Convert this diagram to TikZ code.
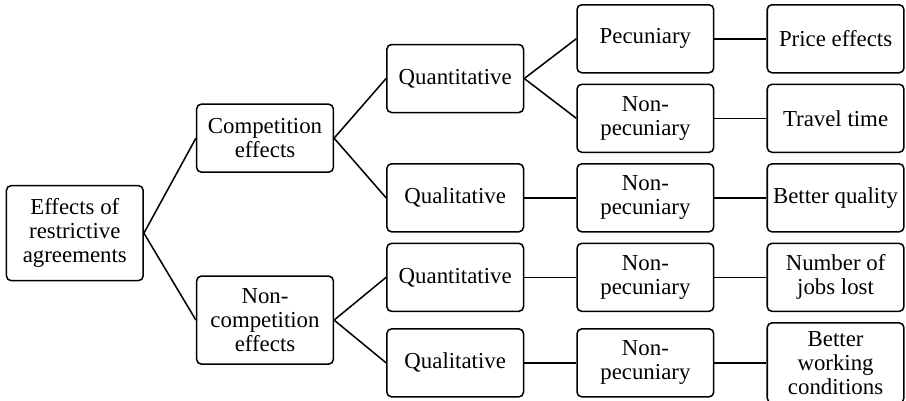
\documentclass[tikz,border=0pt]{standalone}
\usepackage{fontspec}
\setmainfont{Liberation Serif}
\usetikzlibrary{positioning, calc}
\tikzset{
    effbox/.style={rectangle, draw, rounded corners=4pt, line width=1.3pt, minimum width=4.1cm, minimum height=2.04cm, align=center, inner sep=1pt, font=\fontsize{19.5}{20.5}\selectfont},
    efflink/.style={line width=1.3pt}
}

\begin{document}
\begin{tikzpicture}[node distance=0.3cm and 1.56cm]
\useasboundingbox (0,0) rectangle (27.18,-12);

% outcomes
\node[effbox, anchor=north east] (price) at (27.14,-0.12) {Price effects};
\node[effbox, below=of price] (travel) {Travel time};
\node[effbox, below=of travel] (quality) {Better quality};
\node[effbox, below=of quality] (jobs) {Number of\\jobs lost};
\node[effbox, below=of jobs, minimum height=2.4cm] (working) {Better\\working\\conditions};

% pecuniary or not
\node[effbox, left=of price] (pec) {Pecuniary};
\node[effbox, left=of travel] (nonpec1) {Non-\\pecuniary};
\node[effbox, left=of quality] (nonpec2) {Non-\\pecuniary};
\node[effbox, left=of jobs] (nonpec3) {Non-\\pecuniary};
\node[effbox, left=of working] (nonpec4) {Non-\\pecuniary};

% kind of effect
\node[effbox, anchor=east] (quant1) at ($(pec.west)!0.5!(nonpec1.west) + (-1.56,0)$) {Quantitative};
\node[effbox, left=of nonpec2] (qual1) {Qualitative};
\node[effbox, left=of nonpec3] (quant2) {Quantitative};
\node[effbox, left=of nonpec4] (qual2) {Qualitative};

% competition or not
\node[effbox, anchor=east] (comp) at ($(quant1.west)!0.5!(qual1.west) + (-1.56,0)$) {Competition\\effects};
\node[effbox, anchor=east, minimum height=2.64cm] (noncomp) at ($(quant2.west)!0.5!(qual2.west) + (-1.56,0)$) {Non-\\competition\\effects};

\node[effbox, anchor=east, minimum height=2.85cm] (root) at ($(comp.west)!0.5!(noncomp.west) + (-1.56,-0.12)$) {Effects of\\restrictive\\agreements};

\draw[efflink] (root.east) -- (comp.west);
\draw[efflink] (root.east) -- (noncomp.west);
\draw[efflink] (comp.east) -- (quant1.west);
\draw[efflink] (comp.east) -- (qual1.west);
\draw[efflink] (noncomp.east) -- (quant2.west);
\draw[efflink] (noncomp.east) -- (qual2.west);
\draw[efflink] (quant1.east) -- (pec.west);
\draw[efflink] (quant1.east) -- (nonpec1.west);
\draw[efflink] (qual1) -- (nonpec2);
\draw[efflink] (quant2) -- (nonpec3);
\draw[efflink] (qual2) -- (nonpec4);
\draw[efflink] (pec) -- (price);
\draw[efflink] (nonpec1) -- (travel);
\draw[efflink] (nonpec2) -- (quality);
\draw[efflink] (nonpec3) -- (jobs);
\draw[efflink] (nonpec4.east) -- (nonpec4.east -| working.west);

\end{tikzpicture}
\end{document}
